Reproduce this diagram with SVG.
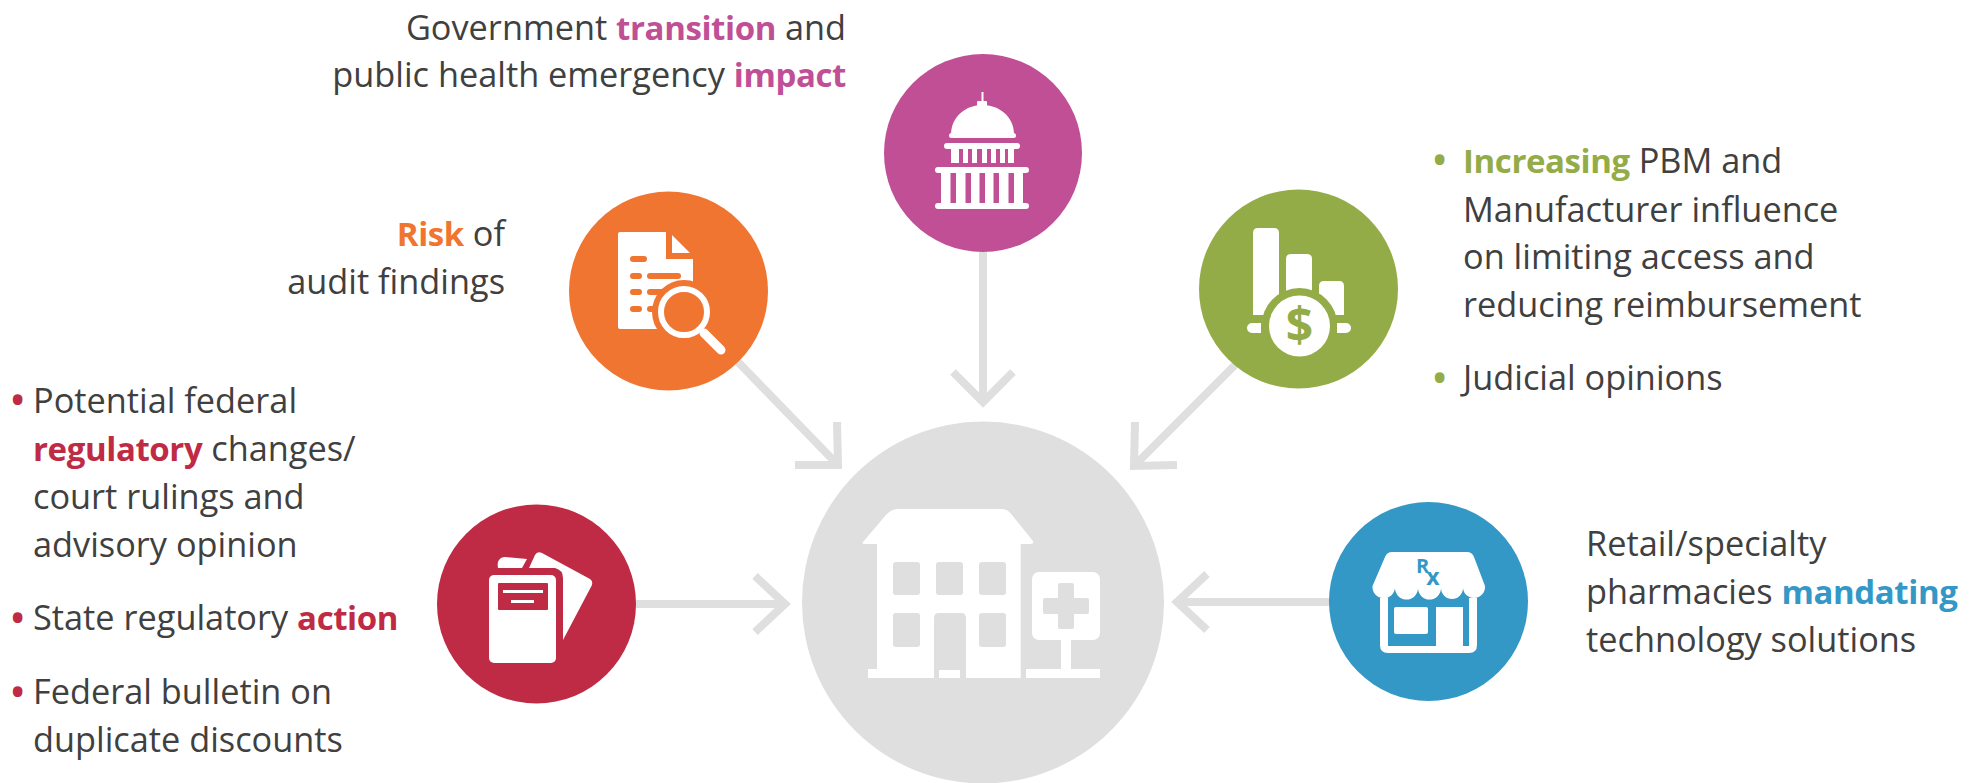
<svg xmlns="http://www.w3.org/2000/svg" width="1980" height="783" viewBox="0 0 1980 783">
<style>
text{font-family:"Open Sans","Noto Sans","Liberation Sans",sans-serif;font-size:34.3px;fill:#404040}
.b{font-weight:700;font-size:33px;letter-spacing:-.4px}
.dot{font-size:46px}
.pu{fill:#c04f96}.or{fill:#ef7531}.gr{fill:#94ac47}.re{fill:#bf2b45}.bl{fill:#3398c6}
.w{fill:#fff}.lg{fill:#dfdfdf}
.end{text-anchor:end}
.arr{fill:none;stroke:#dfdfdf;stroke-width:8;stroke-linejoin:miter}
</style>
<rect width="1980" height="783" fill="#fff"/>
<g id="connectors">
<path class="arr" d="M983 252V398M953 372L983 402L1013 372"/>
<path class="arr" d="M738 362L838 465M837 422L838 465L795 465"/>
<path class="arr" d="M1238 362L1134 466M1135 422L1134 466L1177 465"/>
<path class="arr" d="M636 604H783M755 576L785 604L755 632"/>
<path class="arr" d="M1329 602H1180M1207 574L1177 602L1207 630"/>
</g>
<g id="hospital">
<circle class="lg" cx="983" cy="602.500" r="181"/>
<path class="w" d="M863 542L886 515Q891 509 898 509H1002Q1008 509 1012 515L1033 541Q1034 544 1031 544H1020.700V678H868V669H877V544H864Q862 544 863 542Z"/>
<g class="lg"><rect x="893" y="562" width="27" height="33" rx="3"/><rect x="936" y="562" width="27" height="33" rx="3"/><rect x="979" y="562" width="27" height="33" rx="3"/><rect x="893" y="613" width="27" height="34" rx="3"/><rect x="979" y="613" width="27" height="34" rx="3"/><path d="M934 678V618Q934 613 939 613H961Q966 613 966 618V678Z"/></g>
<rect class="w" x="939" y="670" width="21" height="8"/>
<rect class="w" x="1032" y="572" width="68" height="68" rx="7"/>
<path class="lg" d="M1058 585Q1058 583 1060 583H1072Q1074 583 1074 585V598H1087Q1089 598 1089 600V612Q1089 614 1087 614H1074V627Q1074 629 1072 629H1060Q1058 629 1058 627V614H1045Q1043 614 1043 612V600Q1043 598 1045 598H1058Z"/>
<path class="w" d="M1061 640H1071V669H1100V678H1026V669H1061Z"/>
</g>
<g id="capitol">
<circle class="pu" cx="983" cy="153" r="99"/>
<g class="w">
<rect x="981.500" y="92" width="2" height="12"/><rect x="977" y="101" width="10" height="6" rx="1"/>
<path d="M951 133C952 116 966 105 982.500 105C999 105 1013 116 1014 133Z"/>
<rect x="949" y="133" width="67" height="5" rx="2.500"/><rect x="944" y="143" width="76" height="6" rx="3"/>
<path d="M951 149h8v14h-8zM963 149h5v14h-5zM972 149h5v14h-5zM982 149h5v14h-5zM991 149h5v14h-5zM1000 149h5v14h-5zM1008 149h6v14h-6z"/>
<rect x="935" y="167" width="94" height="6" rx="3"/><rect x="935" y="203" width="94" height="6" rx="3"/>
<path d="M941 173h9.500v30h-9.500zM956 173h9.500v30h-9.500zM971 173h8.500v30h-8.500zM985 173h8.500v30h-8.500zM999 173h9.500v30h-9.500zM1014 173h9v30h-9z"/>
</g>
</g>
<g id="audit">
<circle class="or" cx="668.500" cy="291" r="99.500"/>
<path class="w" d="M620 232H666V259H693V320H658V329H620Q618 329 618 327V234Q618 232 620 232Z"/>
<path class="w" d="M672 235L690 253H672Z"/>
<g class="or">
<rect x="630" y="256" width="17" height="6" rx="3"/><rect x="630" y="273" width="12" height="6" rx="3"/><rect x="647" y="273" width="34" height="6" rx="3"/><rect x="630" y="289" width="12" height="6" rx="3"/><rect x="647" y="289" width="18" height="6" rx="3"/><rect x="630" y="306" width="12" height="6" rx="3"/><rect x="647" y="306" width="10" height="6" rx="3"/>
<circle cx="684" cy="312" r="32"/>
</g>
<circle cx="684" cy="312" r="23" fill="none" stroke="#fff" stroke-width="6"/>
<path d="M704 333L721 350" stroke="#fff" stroke-width="9" stroke-linecap="round"/>
</g>
<g id="finance">
<circle class="gr" cx="1298.500" cy="289" r="99.500"/>
<path class="w" d="M1253 315V233Q1253 228 1258 228H1274Q1279 228 1279 233V315ZM1286 315V259Q1286 254 1291 254H1307Q1312 254 1312 259V315ZM1319 315V286Q1319 281 1324 281H1339Q1344 281 1344 286V315Z"/>
<circle class="gr" cx="1299.500" cy="326" r="38"/>
<rect class="gr" x="1250" y="315" width="100" height="8"/>
<circle class="w" cx="1299.500" cy="326" r="30.500"/>
<path class="w" d="M1261 323H1252A5 5 0 0 0 1252 333H1261ZM1337 323H1346A5 5 0 0 1 1346 333H1337Z"/>
<text class="gr" x="1299.500" y="342" text-anchor="middle" style="font-size:48px;font-weight:700">$</text>
</g>
<g id="regulatory">
<circle class="re" cx="536.500" cy="604" r="99.500"/>
<g class="w">
<path d="M498 568Q497 562 499 560Q501 557 505 557L527 559L522 568Z"/>
<path d="M529 568L535 555Q537 551 542 553L590 579Q593 581 592 585L563 640V578Q563 570 555 568Z"/>
<rect x="489" y="575" width="67" height="88" rx="5"/>
</g>
<rect class="re" x="498" y="583" width="50" height="27" rx="1"/>
<rect class="w" x="503" y="590" width="40" height="3"/><rect class="w" x="511" y="600" width="23" height="3"/>
</g>
<g id="pharmacy">
<circle class="bl" cx="1428.500" cy="601.500" r="99.500"/>
<path class="w" d="M1392 552H1467Q1472 552 1474 557L1485 586A11 11 0 0 1 1463 588A11 11 0 0 1 1441 588A11 11 0 0 1 1418 588A11 11 0 0 1 1395 588A11 11 0 0 1 1372.500 586L1385 557Q1387 552 1392 552Z"/>
<path class="w" d="M1380 598H1388V646H1436V607H1463V646H1469V598H1477V645Q1477 653 1469 653H1388Q1380 653 1380 645Z"/>
<rect class="w" x="1394" y="607" width="34" height="27" rx="2"/>
<text class="bl" x="1416" y="573" style="font-size:20px;font-weight:700">R<tspan dx="-3" dy="12" style="font-size:23px">x</tspan></text>
</g>
<g id="labels">
<text class="end" x="846" y="40">Government <tspan class="pu b">transition</tspan> and</text>
<text class="end" x="846" y="87">public health emergency <tspan class="pu b">impact</tspan></text>
<text class="end" x="505" y="246"><tspan class="or b">Risk</tspan> of</text>
<text class="end" x="505" y="294">audit findings</text>
<text class="re dot" x="9" y="416">•</text>
<text x="33" y="413">Potential federal</text>
<text x="33" y="461"><tspan class="re b">regulatory</tspan> changes/</text>
<text x="33" y="509">court rulings and</text>
<text x="33" y="557">advisory opinion</text>
<text class="re dot" x="9" y="634">•</text>
<text x="33" y="630">State regulatory <tspan class="re b">action</tspan></text>
<text class="re dot" x="9" y="708">•</text>
<text x="33" y="704">Federal bulletin on</text>
<text x="33" y="752">duplicate discounts</text>
<text class="gr dot" x="1431" y="176">•</text>
<text x="1463" y="173"><tspan class="gr b">Increasing</tspan> PBM and</text>
<text x="1463" y="222">Manufacturer influence</text>
<text x="1463" y="269">on limiting access and</text>
<text x="1463" y="317">reducing reimbursement</text>
<text class="gr dot" x="1431" y="394">•</text>
<text x="1463" y="390">Judicial opinions</text>
<text x="1586" y="556">Retail/specialty</text>
<text x="1586" y="604">pharmacies <tspan class="bl b">mandating</tspan></text>
<text x="1586" y="652">technology solutions</text>
</g>
</svg>
